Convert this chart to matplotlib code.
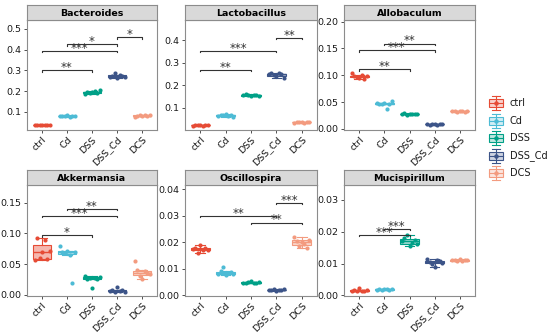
import numpy as np
import matplotlib
matplotlib.use("Agg")
import matplotlib.pyplot as plt
from matplotlib.patches import Rectangle

groups = ["ctrl", "Cd", "DSS", "DSS_Cd", "DCS"]
colors = ["#E64B35", "#4DBBD5", "#00A087", "#3C5488", "#F39B7F"]

# per-panel sample values, one list per group
bacteroides = [
    [0.036, 0.038, 0.035, 0.037, 0.039, 0.036, 0.037],
    [0.079, 0.082, 0.080, 0.083, 0.078, 0.081, 0.080],
    [0.188, 0.195, 0.192, 0.197, 0.200, 0.193, 0.208],
    [0.268, 0.275, 0.290, 0.265, 0.278, 0.272, 0.270],
    [0.075, 0.082, 0.085, 0.080, 0.083, 0.081, 0.084],
]
lactobacillus = [
    [0.020, 0.022, 0.021, 0.023, 0.020, 0.022, 0.021],
    [0.063, 0.068, 0.066, 0.070, 0.062, 0.065, 0.060],
    [0.155, 0.160, 0.157, 0.152, 0.158, 0.156, 0.150],
    [0.250, 0.255, 0.245, 0.240, 0.252, 0.248, 0.230],
    [0.033, 0.034, 0.036, 0.035, 0.033, 0.034, 0.036],
]
allobaculum = [
    [0.105, 0.099, 0.097, 0.095, 0.100, 0.093, 0.098],
    [0.048, 0.047, 0.046, 0.049, 0.037, 0.047, 0.052],
    [0.028, 0.029, 0.026, 0.027, 0.028, 0.027, 0.027],
    [0.009, 0.008, 0.010, 0.009, 0.008, 0.009, 0.009],
    [0.033, 0.034, 0.032, 0.033, 0.034, 0.032, 0.033],
]
akkermansia = [
    [0.056, 0.093, 0.060, 0.070, 0.090, 0.058, 0.072],
    [0.080, 0.070, 0.068, 0.072, 0.065, 0.020, 0.070],
    [0.030, 0.025, 0.028, 0.011, 0.027, 0.026, 0.029],
    [0.006, 0.007, 0.005, 0.012, 0.006, 0.007, 0.005],
    [0.055, 0.040, 0.030, 0.025, 0.038, 0.036, 0.034],
]
oscillospira = [
    [0.0175, 0.0180, 0.0160, 0.0190, 0.0170, 0.0178, 0.0172],
    [0.0080, 0.0090, 0.0105, 0.0078, 0.0085, 0.0088, 0.0082],
    [0.0048, 0.0045, 0.0050, 0.0055, 0.0047, 0.0046, 0.0049],
    [0.0020, 0.0018, 0.0023, 0.0015, 0.0021, 0.0019, 0.0022],
    [0.0220, 0.0205, 0.0185, 0.0200, 0.0195, 0.0180, 0.0210],
]
mucispirillum = [
    [0.0015, 0.0016, 0.0013, 0.0022, 0.0015, 0.0014, 0.0016],
    [0.0018, 0.0020, 0.0017, 0.0019, 0.0021, 0.0018, 0.0019],
    [0.0170, 0.0180, 0.0190, 0.0155, 0.0165, 0.0175, 0.0160],
    [0.0115, 0.0105, 0.0100, 0.0090, 0.0110, 0.0108, 0.0102],
    [0.0112, 0.0110, 0.0108, 0.0113, 0.0109, 0.0111, 0.0110],
]

# significance brackets: (group i, group j, height, label)
sig_bacteroides = [(1, 3, 0.300, "**"), (1, 4, 0.395, "***"), (2, 4, 0.425, "*"), (4, 5, 0.460, "*")]
sig_lactobacillus = [(1, 3, 0.267, "**"), (1, 4, 0.352, "***"), (4, 5, 0.410, "**")]
sig_allobaculum = [(1, 3, 0.111, "**"), (1, 4, 0.1465, "***"), (2, 4, 0.159, "**")]
sig_akkermansia = [(1, 3, 0.097, "*"), (1, 4, 0.129, "***"), (2, 4, 0.140, "**")]
sig_oscillospira = [(1, 4, 0.0300, "**"), (3, 5, 0.0275, "**"), (4, 5, 0.0350, "***")]
sig_mucispirillum = [(1, 3, 0.0190, "***"), (2, 3, 0.0209, "***")]

panels = [
    ("Bacteroides", bacteroides, sig_bacteroides, (0.013, 0.543), [0.1, 0.2, 0.3, 0.4, 0.5], "%.1f"),
    ("Lactobacillus", lactobacillus, sig_lactobacillus, (0.0, 0.49), [0.1, 0.2, 0.3, 0.4], "%.1f"),
    ("Allobaculum", allobaculum, sig_allobaculum, (-0.002, 0.203), [0.0, 0.05, 0.10, 0.15, 0.20], "%.2f"),
    ("Akkermansia", akkermansia, sig_akkermansia, (-0.002, 0.179), [0.0, 0.05, 0.10, 0.15], "%.2f"),
    ("Oscillospira", oscillospira, sig_oscillospira, (-0.0003, 0.0417), [0.0, 0.01, 0.02, 0.03, 0.04], "%.2f"),
    ("Mucispirillum", mucispirillum, sig_mucispirillum, (-0.0002, 0.0347), [0.0, 0.01, 0.02, 0.03], "%.2f"),
]

W, H = 550, 334
fig = plt.figure(figsize=(W / 100, H / 100), dpi=100)

col_x = [(27, 157), (185, 317), (344, 475)]
row_y = [(5, 20, 130), (170, 185, 296)]  # strip top, panel top, panel bottom
frame_col = "#8c8c8c"
fs = 6.8


def fx(x):
    return x / W


def fy(y):
    return 1 - y / H


for k, (title, data, sigs, ylim, yticks, fmt) in enumerate(panels):
    x0, x1 = col_x[k % 3]
    st, pt, pb = row_y[k // 3]
    ax = fig.add_axes([fx(x0), fy(pb), fx(x1 - x0), (pb - pt) / H])
    sax = fig.add_axes([fx(x0), fy(pt), fx(x1 - x0), (pt - st) / H])
    sax.set_facecolor("#D9D9D9")
    sax.set_xticks([])
    sax.set_yticks([])
    for s in sax.spines.values():
        s.set_color(frame_col)
        s.set_linewidth(0.8)
    sax.text(0.5, 0.45, title, ha="center", va="center", fontsize=6.8, fontweight="bold",
             transform=sax.transAxes)

    pos = np.arange(1, len(groups) + 1)
    for i, vals in enumerate(data):
        c = colors[i]
        bp = ax.boxplot([vals], positions=[pos[i]], widths=0.75, patch_artist=True,
                        showfliers=False, whis=1.5)
        for b in bp["boxes"]:
            b.set_facecolor(matplotlib.colors.to_rgba(c, 0.4))
            b.set_edgecolor(c)
            b.set_linewidth(0.8)
        for m in bp["medians"]:
            m.set_color(c)
            m.set_linewidth(1.0)
        for w in bp["whiskers"]:
            w.set_color(c)
            w.set_linewidth(0.8)
        for cp in bp["caps"]:
            cp.set_color(c)
            cp.set_linewidth(0.8)
        offs = np.linspace(-0.3, 0.3, len(vals))
        ax.scatter(pos[i] + offs, vals, s=9, color=c, zorder=3, linewidths=0)

    yr = ylim[1] - ylim[0]
    for (i, j, yb, lab) in sigs:
        tip = yr * 0.012
        ax.plot([i, i, j, j], [yb - tip, yb, yb, yb - tip], color="#333333", lw=0.8, zorder=4)
        ax.text((i + j) / 2, yb - yr * 0.035, lab, ha="center", va="bottom", fontsize=8.5,
                color="#333333", zorder=5)

    ax.set_xlim(0.4, 5.6)
    ax.set_ylim(*ylim)
    ax.set_yticks(yticks)
    ax.set_yticklabels([fmt % t for t in yticks])
    ax.set_xticks(pos)
    ax.set_xticklabels(groups, rotation=45, ha="right", rotation_mode="anchor")
    ax.tick_params(axis="both", labelsize=fs, length=2.5, width=0.6, color="#333333",
                   labelcolor="#1a1a1a", pad=1.2)
    for s in ax.spines.values():
        s.set_color(frame_col)
        s.set_linewidth(0.8)

# legend drawn as boxplot keys
lax = fig.add_axes([0, 0, 1, 1])
lax.set_xlim(0, W)
lax.set_ylim(H, 0)
lax.axis("off")
for i, g in enumerate(groups):
    c = colors[i]
    cy = 103 + i * 17.5
    kx, kw, kh = 489, 14, 8
    lax.add_patch(Rectangle((kx, cy - kh / 2), kw, kh, facecolor=matplotlib.colors.to_rgba(c, 0.25),
                            edgecolor=c, linewidth=0.8))
    lax.plot([kx, kx + kw], [cy, cy], color=c, lw=0.8)
    lax.plot([kx + kw / 2, kx + kw / 2], [cy - 7, cy + 7], color=c, lw=0.8)
    lax.plot([kx + 3, kx + kw - 3], [cy - 7, cy - 7], color=c, lw=0.8)
    lax.plot([kx + 3, kx + kw - 3], [cy + 7, cy + 7], color=c, lw=0.8)
    lax.scatter([kx + kw / 2], [cy], s=5, color=c, zorder=3)
    lax.text(510, cy, g, ha="left", va="center", fontsize=7, color="#1a1a1a")

fig.savefig("out.png", dpi=100)
